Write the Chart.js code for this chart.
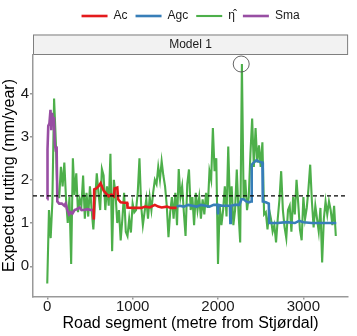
<!DOCTYPE html>
<html><head><meta charset="utf-8">
<script src="https://cdn.jsdelivr.net/npm/chart.js@4.4.1/dist/chart.umd.min.js"></script>
<style>html,body{margin:0;padding:0;background:#fff}canvas{display:block}</style>
</head><body>
<canvas id="c" width="357" height="336"></canvas>
<script>
// ---------- data ----------
const seriesNames = ['Ac', 'Agc', 'η̂', 'Sma'];
const seriesColors = ['#E41A1C', '#377EB8', '#4DAF4A', '#984EA3'];
const panelLabel = 'Model 1';
const xTitle = 'Road segment (metre from Stjørdal)';
const yTitle = 'Expected rutting (mm/year)';
const xTicks = [0, 1000, 2000, 3000];
const yTicks = [0, 1, 2, 3, 4];
const xRange = [-167, 3524];
const yRange = [-0.70, 4.90];

// eta-hat: one value every 20 m from 0 m
const etaStart = 0;
const etaStep = 20;
const etaValues = [
  -0.4, 1.3, 0.65, 1.5, 3.88, 2.9, 1.6, 1.6, 2.3, 1.85, 2.4, 1.55, 1.0, 1.6, 0.05, 2.5, 1.65, 2.15, 1.25, 1.55,
  1.4, 2.1, 1.1, 1.7, 1.15, 1.85, 1.3, 0.85, 1.5, 2.15, 1.7, 1.3, 2.25, 2.1, 1.3, 1.85, 1.4, 2.6, 0.35,
  2.0, 1.65, 1.0, 1.3, 0.6, 1.1, 1.7, 0.8, 0.7, 1.1, 0.78, 1.45, 1.25, 1.3, 1.7, 2.5, 1.4, 0.95, 1.25, 1.55,
  1.1, 1.6, 1.3, 1.7, 2.0, 1.9, 2.3, 2.0, 2.43, 2.1, 1.85, 1.4, 0.67, 1.25, 1.6, 1.1, 1.7, 0.95, 2.25, 1.6,
  1.85, 1.25, 0.7, 1.9,
  2.24, 1.3, 1.6, 0.95, 1.7, 1.3, 1.6, 1.1, 1.55, 1.2, 1.7, 1.35, 2.2, 2.0, 3.2, 2.2, 2.5, 0.05, 1.4, 0.95,
  1.3, 1.85, 1.15, 2.77, 1.4, 1.85, 0.95, 1.3, 2.24, 1.25, 0.55, 4.68, 1.55, 2.0, 1.3, 1.6, 2.6, 3.42, 2.3, 3.2,
  2.4, 2.8, 2.3, 2.87, 1.2,
  1.25, 0.85, 1.3, 1.1, 0.8, 0.95, 0.55, 1.1, 1.55, 2.2, 1.3, 0.9, 0.65, 1.3, 1.4, 0.8, 1.6, 1.2, 2.0, 1.45,
  0.85, 0.6, 1.6, 1.1, 1.35, 1.8, 2.35, 1.5, 0.9, 1.4, 1.1, 0.8, 1.35, 0.09, 1.1, 1.5, 1.2, 1.5, 1.3, 0.95,
  1.4, 0.7
];

const acX = [545, 550, 575, 600, 625, 640, 660, 690, 720, 750, 780, 790, 820, 830, 860, 900, 935, 940, 1000, 1100, 1150, 1200, 1260, 1300, 1340, 1400, 1450, 1515];
const acY = [1.08, 1.78, 1.8, 1.85, 1.92, 1.85, 1.75, 1.68, 1.62, 1.66, 1.62, 1.8, 1.82, 1.55, 1.48, 1.47, 1.47, 1.36, 1.35, 1.35, 1.38, 1.36, 1.42, 1.38, 1.36, 1.38, 1.35, 1.35];

const agcX = [1515, 1550, 1600, 1650, 1700, 1750, 1800, 1850, 1900, 1950, 1995, 2000, 2005, 2050, 2100, 2140, 2145, 2150, 2200, 2250, 2275, 2300, 2330, 2360, 2390, 2395, 2420, 2450, 2480, 2510, 2520, 2525, 2560, 2595, 2600, 2700, 2800, 2900, 2950, 3000, 3100, 3200, 3300, 3385];
const agcY = [1.38, 1.4, 1.38, 1.42, 1.4, 1.38, 1.42, 1.4, 1.38, 1.42, 1.42, 1.2, 1.42, 1.4, 1.4, 1.4, 1.0, 1.4, 1.42, 1.42, 1.55, 1.55, 1.5, 1.48, 1.5, 2.35, 2.4, 2.45, 2.42, 2.4, 2.4, 1.5, 1.48, 1.45, 1.0, 1.0, 1.02, 1.0, 1.05, 1.02, 1.0, 1.0, 1.0, 1.0];

const smaX = [0, 3, 12, 25, 38, 48, 58, 68, 78, 88, 98, 110, 118, 140, 170, 200, 215, 235, 255, 275, 295, 320, 345, 380, 400, 430, 470, 510, 540, 545];
const smaY = [1.55, 2.7, 3.25, 3.3, 3.62, 3.15, 3.55, 3.3, 3.45, 2.85, 2.7, 2.72, 1.5, 1.45, 1.45, 1.4, 1.45, 1.3, 1.2, 1.25, 1.22, 1.3, 1.32, 1.36, 1.3, 1.3, 1.32, 1.3, 1.3, 1.08];

const thresholdValue = 1.63;
const markX = [2272];
const markY = [4.68];

// ---------- build ----------
const pts = (xs, ys) => xs.map((x, i) => ({x: x, y: ys[i]}));
const etaX = etaValues.map((_, i) => etaStart + i * etaStep);

const FONT = "'Liberation Sans', Arial, Helvetica, sans-serif";
Chart.defaults.font.family = FONT;
Chart.defaults.color = '#1a1a1a';

const stripPlugin = {
  id: 'strip',
  beforeDraw(chart) {
    const {ctx, chartArea} = chart;
    const top = chartArea.top - 20;
    ctx.save();
    ctx.fillStyle = '#F2F2F2';
    ctx.fillRect(chartArea.left, top, chartArea.right - chartArea.left, 20);
    ctx.strokeStyle = '#7f7f7f';
    ctx.lineWidth = 1;
    ctx.strokeRect(chartArea.left + 0.5, top + 0.5, chartArea.right - chartArea.left - 1, 19.5);
    ctx.restore();
  }
};

const lineDs = (label, data, color, width, order) => ({
  label, data, borderColor: color, backgroundColor: color, borderWidth: width,
  pointRadius: 0, tension: 0, order, fill: false
});

new Chart(document.getElementById('c'), {
  type: 'line',
  data: {
    datasets: [
      lineDs(seriesNames[0], pts(acX, acY), seriesColors[0], 2.6, 2),
      lineDs(seriesNames[1], pts(agcX, agcY), seriesColors[1], 2.6, 2),
      lineDs(seriesNames[2], pts(etaX, etaValues), seriesColors[2], 2.1, 5),
      lineDs(seriesNames[3], pts(smaX, smaY), seriesColors[3], 2.6, 2),
      {
        label: 'threshold', data: [{x: xRange[0], y: thresholdValue}, {x: xRange[1], y: thresholdValue}],
        borderColor: '#000', borderWidth: 1.3, borderDash: [4, 3], pointRadius: 0, order: 0
      },
      {
        type: 'scatter', label: 'mark', data: pts(markX, markY), showLine: false,
        pointRadius: 8, pointHoverRadius: 8, borderColor: '#555', borderWidth: 0.9,
        backgroundColor: 'rgba(0,0,0,0)', order: 0
      }
    ]
  },
  options: {
    responsive: false,
    animation: false,
    devicePixelRatio: 1,
    layout: {padding: {top: 2, left: 0, right: 4, bottom: 0}},
    plugins: {
      tooltip: {enabled: false},
      legend: {
        position: 'top', fullSize: false,
        labels: {
          usePointStyle: true, pointStyle: 'line', pointStyleWidth: 26,
          padding: 8, color: '#1a1a1a',
          font: {size: 12, family: FONT},
          filter: (item) => item.datasetIndex < 4,
          sort: (a, b) => a.datasetIndex - b.datasetIndex
        }
      },
      title: {
        display: true, text: panelLabel, position: 'top', fullSize: false, weight: 500,
        color: '#1a1a1a', font: {size: 12, weight: 'normal', family: FONT, lineHeight: 1.2},
        padding: {top: 5.3, bottom: 2.8}
      }
    },
    scales: {
      x: {
        type: 'linear', min: xRange[0], max: xRange[1],
        afterBuildTicks: (s) => { s.ticks = xTicks.map(v => ({value: v})); },
        afterFit: (s) => { s.height = 39.5; },
        grid: {display: true, drawOnChartArea: false, drawTicks: true, tickLength: 3, color: '#999', lineWidth: 1.5},
        border: {display: true, color: '#999', width: 1.5},
        ticks: {font: {size: 15, lineHeight: 1}, color: '#1a1a1a', padding: 0, maxRotation: 0,
                callback: (v) => String(v)},
        title: {display: true, text: xTitle, font: {size: 16, lineHeight: 1.2}, color: '#000', padding: {top: 0, bottom: 2.5}}
      },
      y: {
        type: 'linear', min: yRange[0], max: yRange[1],
        afterBuildTicks: (s) => { s.ticks = yTicks.map(v => ({value: v})); },
        afterFit: (s) => { s.width = 33; },
        grid: {display: true, drawOnChartArea: false, drawTicks: true, tickLength: 3, color: '#999', lineWidth: 1.5},
        border: {display: true, color: '#999', width: 1.5},
        ticks: {font: {size: 15, lineHeight: 1}, color: '#1a1a1a', padding: 1, callback: (v) => String(v)},
        title: {display: true, text: yTitle, font: {size: 16, lineHeight: 1.2}, color: '#000', padding: {top: 0, bottom: 0}}
      }
    }
  },
  plugins: [stripPlugin]
});
</script>
</body></html>
